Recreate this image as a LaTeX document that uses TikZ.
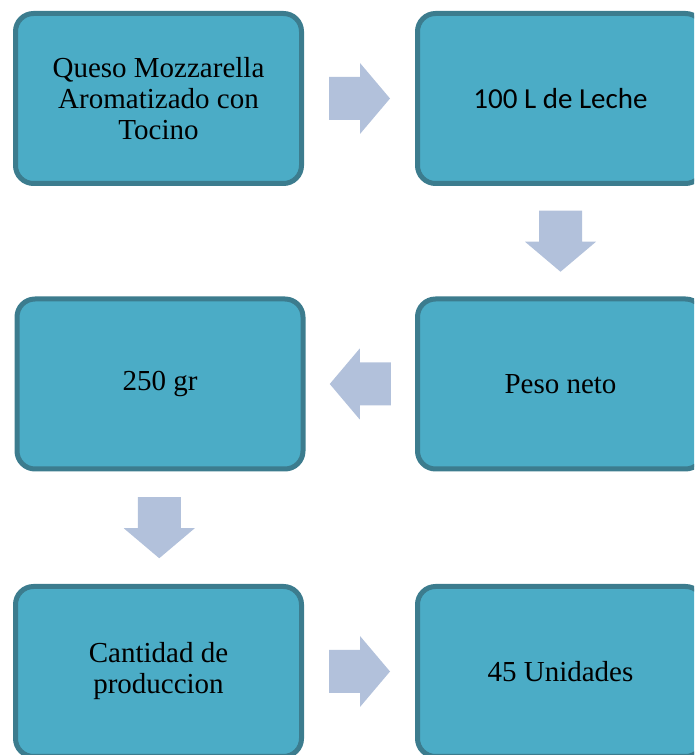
\documentclass[tikz,border=0pt]{standalone}
\usepackage{fontspec}
\setmainfont{Liberation Serif}
\newfontfamily\calibri{Carlito}
\usetikzlibrary{calc}

\definecolor{cajaazul}{RGB}{75,172,198}
\definecolor{bordeazul}{RGB}{60,124,142}
\definecolor{flechaazul}{RGB}{178,193,219}

\tikzset{
  caja/.style={draw=bordeazul, fill=cajaazul, line width=5pt, rounded corners=18pt,
    minimum width=286pt, minimum height=170pt, align=center,
    font=\fontsize{29}{31}\selectfont},
  flecha/.style={fill=flechaazul}
}

\begin{document}
\begin{tikzpicture}[x=1pt, y=1pt]

\clip (0,0) rectangle (694,755);

\node[caja] (queso) at (158.5,656.5) {Queso Mozzarella\\Aromatizado con\\Tocino};
\node[caja] (leche) at (560.5,656.5) {\calibri 100 L de Leche};

\node[caja] (gramos) at (160,371) {250 gr};
\node[caja] (peso) at (560.5,371) {Peso neto};

\node[caja] (cantidad) at (158.5,83.5) {Cantidad de\\produccion};
\node[caja] (unidades) at (560.5,83.5) {45 Unidades};

% flechas de bloque
\fill[flecha, shift={($(queso.east)!0.5!(leche.west)$)}] (-30.5,-21.5) -- (0.5,-21.5) -- (0.5,-35.5) -- (30.5,0) -- (0.5,35.5) -- (0.5,21.5) -- (-30.5,21.5) -- cycle;
\fill[flecha, shift={($(leche.south)!0.5!(peso.north)$)}, rotate=-90] (-30.5,-21.5) -- (0.5,-21.5) -- (0.5,-35.5) -- (30.5,0) -- (0.5,35.5) -- (0.5,21.5) -- (-30.5,21.5) -- cycle;
\fill[flecha, shift={($(peso.west)!0.5!(gramos.east)$)}, rotate=180] (-30.5,-21.5) -- (0.5,-21.5) -- (0.5,-35.5) -- (30.5,0) -- (0.5,35.5) -- (0.5,21.5) -- (-30.5,21.5) -- cycle;
\fill[flecha, shift={($(gramos.south)!0.5!(cantidad.north)$)}, rotate=-90] (-30.5,-21.5) -- (0.5,-21.5) -- (0.5,-35.5) -- (30.5,0) -- (0.5,35.5) -- (0.5,21.5) -- (-30.5,21.5) -- cycle;
\fill[flecha, shift={($(cantidad.east)!0.5!(unidades.west)$)}] (-30.5,-21.5) -- (0.5,-21.5) -- (0.5,-35.5) -- (30.5,0) -- (0.5,35.5) -- (0.5,21.5) -- (-30.5,21.5) -- cycle;

\end{tikzpicture}
\end{document}
